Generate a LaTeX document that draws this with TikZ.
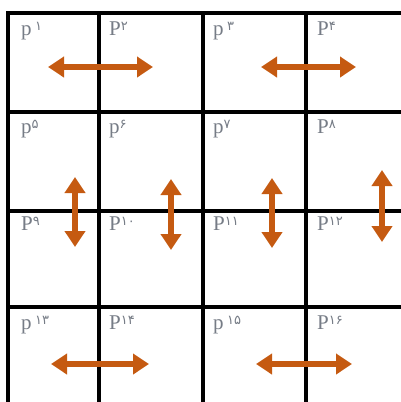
\documentclass[tikz,border=0pt]{standalone}
\usepackage{fontspec}
\setmainfont{Liberation Serif}
\newfontfamily\digitfont{DejaVu Sans}
\usetikzlibrary{arrows.meta}
\definecolor{arroworange}{HTML}{C55A11}
\definecolor{labelgray}{HTML}{767C86}
\tikzset{
  gridline/.style={line width=3.6pt, black},
  dblarrow/.style={arroworange, line width=6pt,
    {Triangle[width=20pt,length=16pt]}-{Triangle[width=20pt,length=16pt]}},
  celllabel/.style={anchor=base west, inner sep=0pt, text=labelgray,
    font=\fontsize{21}{21}\selectfont}
}
\newcommand{\pdig}[1]{\raisebox{5pt}{\digitfont\fontsize{13}{13}\selectfont #1}}
\begin{document}
\begin{tikzpicture}[x=1pt,y=-1pt]
\useasboundingbox (0,0) rectangle (401,402);
\fill[white] (0,0) rectangle (401,402);
% grid
\foreach \x in {8,99,203,306} \draw[gridline] (\x,11.2) -- (\x,404);
\foreach \y in {13,112,211,307} \draw[gridline] (6.2,\y) -- (404,\y);
% labels
\node[celllabel] (l1) at (21,35) {p\,\pdig{۱}};
\node[celllabel] (l2) at (109,35) {P\pdig{۲}};
\node[celllabel] (l3) at (213,35) {p\,\pdig{۳}};
\node[celllabel] (l4) at (317,35) {P\pdig{۴}};
\node[celllabel] (l5) at (21,133) {p\pdig{۵}};
\node[celllabel] (l6) at (109,133) {p\pdig{۶}};
\node[celllabel] (l7) at (213,133) {p\pdig{۷}};
\node[celllabel] (l8) at (317,133) {P\pdig{۸}};
\node[celllabel] (l9) at (21,230) {P\pdig{۹}};
\node[celllabel] (l10) at (109,230) {P\pdig{۱۰}};
\node[celllabel] (l11) at (213,230) {P\pdig{۱۱}};
\node[celllabel] (l12) at (317,230) {P\pdig{۱۲}};
\node[celllabel] (l13) at (21,329) {p\,\pdig{۱۳}};
\node[celllabel] (l14) at (109,329) {P\pdig{۱۴}};
\node[celllabel] (l15) at (213,329) {p\,\pdig{۱۵}};
\node[celllabel] (l16) at (317,329) {P\pdig{۱۶}};
% arrow end points
\coordinate (a1l) at (48,67);  \coordinate (a1r) at (153,67);
\coordinate (a2l) at (261,67); \coordinate (a2r) at (356,67);
\coordinate (v1t) at (75,177);  \coordinate (v1b) at (75,247);
\coordinate (v2t) at (171,179); \coordinate (v2b) at (171,250);
\coordinate (v3t) at (272,178); \coordinate (v3b) at (272,248);
\coordinate (v4t) at (382,170); \coordinate (v4b) at (382,242);
\coordinate (b1l) at (51,364);  \coordinate (b1r) at (149,364);
\coordinate (b2l) at (256,364); \coordinate (b2r) at (352,364);
% arrows
\draw[dblarrow] (a1l) -- (a1r);
\draw[dblarrow] (a2l) -- (a2r);
\draw[dblarrow] (v1t) -- (v1b);
\draw[dblarrow] (v2t) -- (v2b);
\draw[dblarrow] (v3t) -- (v3b);
\draw[dblarrow] (v4t) -- (v4b);
\draw[dblarrow] (b1l) -- (b1r);
\draw[dblarrow] (b2l) -- (b2r);
\end{tikzpicture}
\end{document}
